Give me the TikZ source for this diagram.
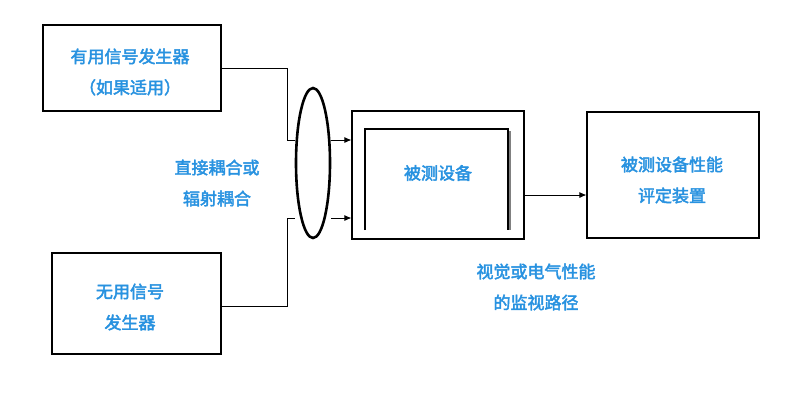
\documentclass[tikz,border=0pt]{standalone}
\usepackage{fontspec}
\usepackage{tikz}
\usetikzlibrary{arrows.meta, shapes.geometric}
\newfontfamily\cjk{Noto Sans CJK SC}[FakeBold=2.5]
\definecolor{labelblue}{RGB}{40,146,224}
\tikzset{
    blk/.style={draw, line width=1.1pt, fill=white},
    txt/.style={align=center, font=\cjk\fontsize{17}{31}\selectfont, text=labelblue},
    sig/.style={line width=0.9pt},
    feed/.style={line width=0.9pt, -{Latex[length=7pt,width=6pt]}}
}

\begin{document}
\begin{tikzpicture}[x=1pt, y=-1pt]
        \useasboundingbox (0,0) rectangle (786,408);
        \node[blk, minimum width=178pt, minimum height=86pt] at (132, 68) (wanted) {};
        \node[txt] at (130, 72) (wantedname) {有用信号发生器\\（如果适用）};
        \node[blk, minimum width=169pt, minimum height=101pt] at (136.5, 303.5) (unwanted) {};
        \node[txt] at (130, 307) (unwantedname) {无用信号\\发生器};
        \node[draw, ellipse, line width=2.6pt, minimum width=34pt, minimum height=150pt] at (313, 163) (coupler) {};
        \node[txt] at (217, 183) (path) {直接耦合或\\辐射耦合};
        \node[blk, minimum width=172pt, minimum height=128pt] at (438, 175) (eut) {};
        \node[txt] at (438, 173) (eutname) {被测设备};
        \node[blk, minimum width=172pt, minimum height=126pt] at (673, 175) (judge) {};
        \node[txt] at (672, 180) (judgename) {被测设备性能\\评定装置};
        \node[txt] at (536, 287) (monitor) {视觉或电气性能\\的监视路径};
        \coordinate (inA) at (287, 140);
        \coordinate (inB) at (287, 218);
        % inner frame of the equipment under test
        \draw[line width=1.1pt] (365, 230) -- (365, 129) -- (508, 129) -- (508, 230);
        \draw[line width=1.1pt, gray] (510, 131) -- (510, 230);
        \draw[sig] (wanted.east) -| (inA) -- (coupler.west |- inA);
        \draw[sig] (unwanted.east |- 0, 306) -| (inB) -- (coupler.west |- inB);
        \draw[feed] (coupler.east |- inA) -- (eut.west |- inA);
        \draw[feed] (coupler.east |- inB) -- (eut.west |- inB);
        \draw[feed] (eut.east |- 0, 195) -- (judge.west |- 0, 195);
    \end{tikzpicture}
\end{document}
